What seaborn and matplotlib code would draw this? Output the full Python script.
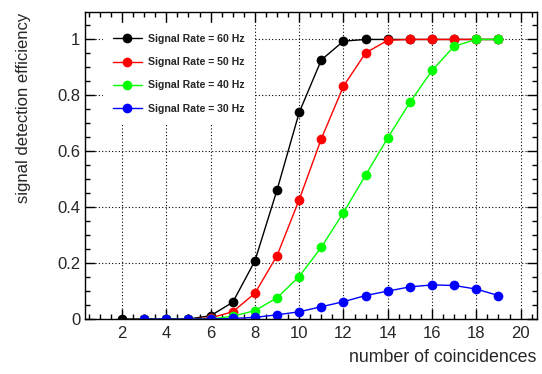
import numpy as np
import pandas as pd
import matplotlib
matplotlib.use("Agg")
import matplotlib.pyplot as plt
import seaborn as sns
from matplotlib.lines import Line2D
from matplotlib.ticker import MultipleLocator

# efficiency vs number of coincidences, one series per signal rate
coinc_60 = [2, 3, 4, 5, 6, 7, 8, 9, 10, 11, 12, 13, 14, 15, 16, 17, 18, 19]
eff_60 = [0, 0, 0, 0, 0.012, 0.06, 0.208, 0.462, 0.739, 0.927, 0.994, 1.0,
          1.0, 1.0, 1.0, 1.0, 1.0, 1.0]

coinc_rest = [3, 4, 5, 6, 7, 8, 9, 10, 11, 12, 13, 14, 15, 16, 17, 18, 19]
eff_50 = [0, 0, 0, 0.004, 0.026, 0.092, 0.227, 0.427, 0.645, 0.833, 0.952,
          0.997, 1.0, 1.0, 1.0, 1.0, 1.0]
eff_40 = [0, 0, 0, 0, 0.01, 0.03, 0.076, 0.152, 0.257, 0.381, 0.515, 0.648,
          0.775, 0.889, 0.976, 1.0, 1.0]
eff_30 = [0, 0, 0, 0, 0.002, 0.006, 0.015, 0.026, 0.044, 0.062, 0.084, 0.1,
          0.115, 0.122, 0.12, 0.107, 0.084]

labels = ["Signal Rate = 60 Hz", "Signal Rate = 50 Hz",
          "Signal Rate = 40 Hz", "Signal Rate = 30 Hz"]
colors = ["#000000", "#ff0000", "#00ff00", "#0000ff"]

frames = [pd.DataFrame({"n": coinc_60, "eff": eff_60, "rate": labels[0]})]
for lab, vals in zip(labels[1:], [eff_50, eff_40, eff_30]):
    frames.append(pd.DataFrame({"n": coinc_rest, "eff": vals, "rate": lab}))
df = pd.concat(frames, ignore_index=True)

sns.set_style("ticks")
plt.rcParams["font.family"] = ["Liberation Sans", "DejaVu Sans"]

fig = plt.figure(figsize=(5.42, 3.74), dpi=100)
ax = fig.add_axes([0.157, 0.147, 0.833, 0.820])

sns.lineplot(data=df, x="n", y="eff", hue="rate", hue_order=labels,
             palette=colors, marker="o", markersize=7, markeredgewidth=0,
             linewidth=1.0, ax=ax, legend=False)

ax.set_xlim(0.33, 20.72)
ax.set_ylim(0, 1.097)
ax.xaxis.set_minor_locator(MultipleLocator(0.5))
ax.yaxis.set_minor_locator(MultipleLocator(0.05))
ax.set_xticks(np.arange(2, 21, 2))
ax.set_xticklabels([str(v) for v in range(2, 21, 2)])
ax.set_yticks([0, 0.2, 0.4, 0.6, 0.8, 1.0])
ax.set_yticklabels(["0", "0.2", "0.4", "0.6", "0.8", "1"])

ax.tick_params(which="both", direction="in", top=True, right=True,
               labelsize=12, color="black")
ax.tick_params(axis="x", which="major", pad=5)
ax.tick_params(which="major", length=7, width=1)
ax.tick_params(which="minor", length=3.5, width=1)
for s in ax.spines.values():
    s.set_linewidth(1.0)
    s.set_color("black")

ax.grid(True, which="major", linestyle=(0, (1, 2)), color="black",
        linewidth=0.8)
ax.set_axisbelow(True)

ax.set_xlabel("number of coincidences", fontsize=12.8, loc="right",
              labelpad=6)
ax.set_ylabel("signal detection efficiency", fontsize=12, loc="top",
              labelpad=19)

# legend sits on a white box without border, hiding the grid behind it
handles = [Line2D([], [], color=c, marker="o", markersize=7,
                  markeredgewidth=0, linewidth=1.0) for c in colors]
leg = ax.legend(handles, labels, loc="upper left",
                bbox_to_anchor=(0.040, 0.962), frameon=True, fancybox=False,
                facecolor="white", edgecolor="none", framealpha=1.0,
                prop={"weight": "bold", "size": 7.6}, borderpad=0.95,
                handlelength=2.7, handletextpad=0.6, labelspacing=1.25,
                borderaxespad=0)

fig.savefig("out.png", dpi=100)
